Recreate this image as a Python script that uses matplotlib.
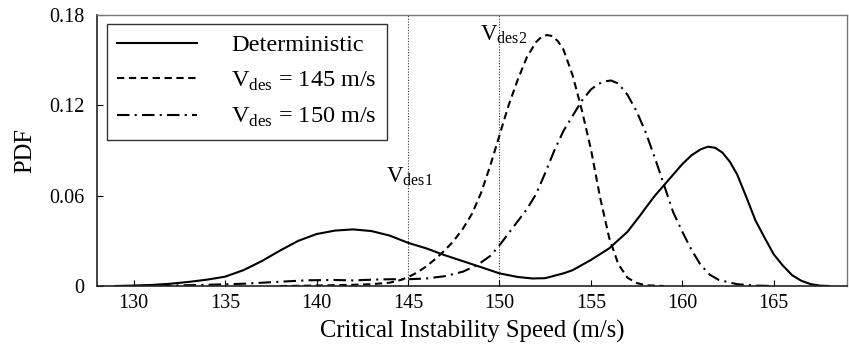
import matplotlib
matplotlib.use('Agg')
import matplotlib.pyplot as plt

plt.rcParams['font.family'] = ['Liberation Serif', 'DejaVu Serif']
plt.rcParams['mathtext.fontset'] = 'custom'
plt.rcParams['mathtext.rm'] = 'Liberation Serif'

# deterministic design
det_speed = [129, 130, 131, 132, 133, 134, 135, 136, 137, 138, 139, 140, 141, 142,
             143, 144, 145, 146, 147, 148, 149, 150, 151, 151.8, 152.5, 153.5, 154,
             155, 156, 157, 157.7, 158, 158.5, 159, 159.5, 160, 160.5, 161, 161.4,
             161.8, 162.2, 162.6, 163, 163.5, 164, 164.5, 165, 165.5, 166, 166.5, 167,
             167.5, 168]
det_pdf = [0.0, 0.0003, 0.0007, 0.0015, 0.0027, 0.0042, 0.0062, 0.0105, 0.0165, 0.0235,
           0.0300, 0.0345, 0.0368, 0.0376, 0.0365, 0.0335, 0.0287, 0.0250, 0.0205, 0.0165,
           0.0125, 0.0084, 0.0060, 0.0050, 0.0052, 0.0084, 0.0105, 0.0173, 0.0250, 0.0360,
           0.0470, 0.0520, 0.0600, 0.0670, 0.0740, 0.0810, 0.0868, 0.0908, 0.0925, 0.0918,
           0.0885, 0.0825, 0.0740, 0.0590, 0.0435, 0.0320, 0.0210, 0.0135, 0.0072, 0.0035,
           0.0013, 0.0003, 0.0]

# design speed 145 m/s
v145_speed = [138, 140, 142, 143, 144, 144.6, 145, 145.5, 146, 146.5, 147, 147.5, 148,
              148.5, 149, 149.5, 150, 150.5, 151, 151.5, 152, 152.3, 152.6, 152.9, 153.2,
              153.5, 154, 154.5, 155, 155.5, 156, 156.5, 157, 157.5, 158, 159]
v145_pdf = [0.0, 0.0003, 0.0008, 0.0012, 0.0022, 0.0040, 0.0058, 0.0090, 0.0130, 0.0180,
            0.0235, 0.0300, 0.0380, 0.0480, 0.0620, 0.0800, 0.1000, 0.1200, 0.1370, 0.1520,
            0.1620, 0.1655, 0.1667, 0.1660, 0.1625, 0.1570, 0.1400, 0.1170, 0.0910, 0.0590,
            0.0320, 0.0145, 0.0055, 0.0020, 0.0005, 0.0]

# design speed 150 m/s
v150_speed = [130, 132, 134, 136, 137.5, 139.5, 141, 142, 143, 144, 145, 146, 147, 148,
              148.8, 149.5, 150, 150.5, 151, 151.5, 152, 152.5, 153, 153.5, 154, 154.5,
              155, 155.4, 155.8, 156.1, 156.5, 157, 157.5, 158, 158.5, 159, 159.5, 160,
              160.5, 161, 161.5, 162, 163, 164, 165]
v150_pdf = [0.0, 0.0003, 0.0008, 0.0015, 0.0025, 0.0038, 0.0040, 0.0037, 0.0042, 0.0045,
            0.0045, 0.0050, 0.0065, 0.0095, 0.0140, 0.0200, 0.0270, 0.0350, 0.0430, 0.0510,
            0.0610, 0.0750, 0.0900, 0.1030, 0.1130, 0.1230, 0.1305, 0.1342, 0.1360, 0.1365,
            0.1345, 0.1270, 0.1160, 0.1020, 0.0850, 0.0670, 0.0490, 0.0360, 0.0240, 0.0140,
            0.0075, 0.0040, 0.0012, 0.0003, 0.0]

x_ticks = [130, 135, 140, 145, 150, 155, 160, 165]
y_ticks = [0, 0.06, 0.12, 0.18]
y_tick_labels = ['0', '0.06', '0.12', '0.18']
v_des = [145, 150]

fig = plt.figure(figsize=(8.49, 3.49), dpi=100)
ax = fig.add_axes([0.1143, 0.1805, 0.8833, 0.7765])

for v in v_des:
    ax.axvline(v, color='#333333', lw=0.8, ls=(0, (1, 1.5)), zorder=1)

ax.plot(det_speed, det_pdf, color='black', lw=1.5, label='Deterministic')
ax.plot(v145_speed, v145_pdf, color='black', lw=1.5, ls=(0, (3.5, 2.2)),
        label=r'V$_{\mathrm{des}}$ = 145 m/s')
ax.plot(v150_speed, v150_pdf, color='black', lw=1.5, ls=(0, (6, 2.5, 1, 2.5)),
        label=r'V$_{\mathrm{des}}$ = 150 m/s')

ax.text(143.82, 0.069, r'V$_{\mathrm{des1}}$', fontsize=16.5, va='baseline')
ax.text(148.95, 0.1634, r'V$_{\mathrm{des2}}$', fontsize=16.5, va='baseline')

ax.set_xlim(128, 169)
ax.set_ylim(0, 0.18)
ax.set_xticks(x_ticks)
ax.set_yticks(y_ticks)
ax.set_yticklabels(y_tick_labels)
ax.tick_params(direction='in', length=4, width=0.8, labelsize=14.5)
ax.tick_params(axis='x', pad=6)
ax.tick_params(axis='y', pad=9)
ax.set_xlabel('Critical Instability Speed (m/s)', fontsize=17.7, labelpad=5)
ax.set_ylabel('PDF', fontsize=17.7, labelpad=9)

for side in ['left', 'bottom']:
    ax.spines[side].set_color('#222222')
    ax.spines[side].set_linewidth(1.2)
for side in ['top', 'right']:
    ax.spines[side].set_color('#777777')
    ax.spines[side].set_linewidth(1.0)

leg = ax.legend(loc='upper left', bbox_to_anchor=(0.0133, 0.967), borderaxespad=0,
                fontsize=17.5, handlelength=3.3, handletextpad=1.4, labelspacing=0.55,
                borderpad=0.42, fancybox=False, framealpha=1)
leg.get_frame().set_edgecolor('#333333')
leg.get_frame().set_linewidth(1.0)

fig.savefig('out.png', dpi=100)
